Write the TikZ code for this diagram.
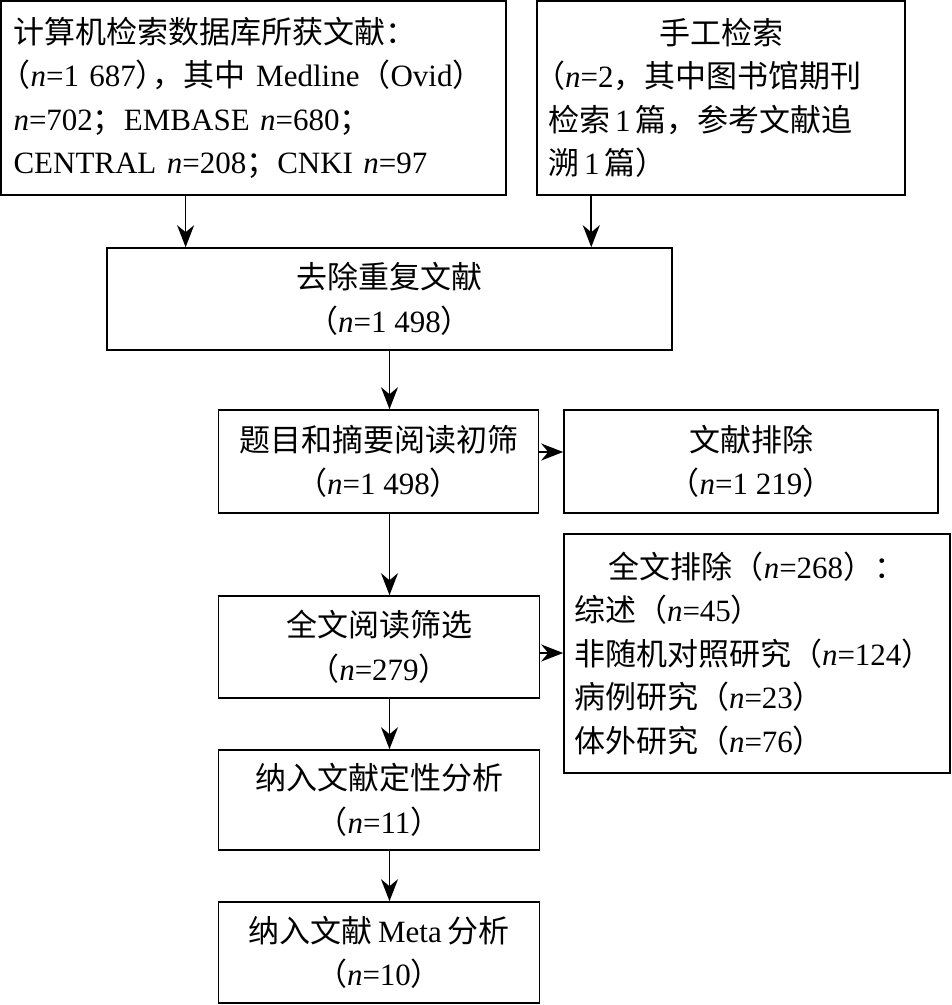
\documentclass[tikz,border=0pt]{standalone}
\usepackage{fontspec}
\setmainfont{Liberation Serif}
\newfontfamily\cjk{Noto Sans CJK SC}
\usetikzlibrary{arrows.meta,calc}
\newcommand\zh[1]{{\cjk #1}}
\newcommand\nI{\textit{n}}
\newcommand\lpar{{\cjk\makebox[.55em][r]{（}}}
\newcommand\rpar{{\cjk\makebox[.55em][l]{）}}}
\tikzset{
  box/.style={draw, line width=1.6pt, inner sep=0pt, font=\fontsize{31}{43.5}\selectfont},
  arr/.style={line width=1.6pt, -{Stealth[length=22pt,width=17pt,inset=7pt]}},
}
\begin{document}
\begin{tikzpicture}[x=1pt,y=-1pt]
\useasboundingbox (0,0) rectangle (952,1005);
\node[box, minimum width=505pt, minimum height=194pt, text width=480pt, align=left] (A) at (253.5,98) {%
\zh{计算机检索数据库所获文献：}\\
\lpar\nI=1~687\rpar\zh{，其中}~Medline\zh{（}Ovid\zh{）}\\
\nI=702\zh{；}EMBASE~\nI=680\zh{；}\\
CENTRAL~\nI=208\zh{；}CNKI~\nI=97};
\node[box, minimum width=368pt, minimum height=194pt, text width=346pt, align=left] (B) at (721,98) {%
\makebox[\hsize]{\zh{手工检索}}\\
\lpar\nI=2\zh{，其中图书馆期刊}\\
\zh{检索}\,1\,\zh{篇，参考文献追}\\
\zh{溯}\,1\,\zh{篇）}};
\node[box, minimum width=565pt, minimum height=102pt, align=center] (C) at (389.5,299) {\zh{去除重复文献}\\\zh{（}\nI=1~498\zh{）}};
\node[box, minimum width=320pt, minimum height=103pt, align=center] (D) at (378.5,461.5) {\zh{题目和摘要阅读初筛}\\\zh{（}\nI=1~498\zh{）}};
\node[box, minimum width=374pt, minimum height=103pt, align=center] (E) at (751,461.5) {\zh{文献排除}\\\zh{（}\nI=1~219\zh{）}};
\node[box, minimum width=321pt, minimum height=102pt, align=center] (F) at (379,647) {\zh{全文阅读筛选}\\\zh{（}\nI=279\zh{）}};
\node[box, minimum width=386pt, minimum height=239pt, text width=366pt, align=left] (G) at (757,653.5) {%
\makebox[\hsize]{\zh{全文排除（}\nI=268\zh{）：}}\\
\zh{综述（}\nI=45\zh{）}\\
\zh{非随机对照研究（}\nI=124\zh{）}\\
\zh{病例研究（}\nI=23\zh{）}\\
\zh{体外研究（}\nI=76\zh{）}};
\node[box, minimum width=321pt, minimum height=100pt, align=center] (H) at (379,800) {\zh{纳入文献定性分析}\\\zh{（}\nI=11\zh{）}};
\node[box, minimum width=321pt, minimum height=101pt, align=center] (I) at (379,952.5) {\zh{纳入文献}\,Meta\,\zh{分析}\\\zh{（}\nI=10\zh{）}};
\path ($(A.south west)!0.366!(A.south east)$) coordinate (a1);
\path ($(B.south west)!0.149!(B.south east)$) coordinate (b1);
\draw[arr] (a1) -- (a1 |- C.north);
\draw[arr] (b1) -- (b1 |- C.north);
\draw[arr] (C.south) -- (C.south |- D.north);
\draw[arr] ([yshift=9.5pt]D.east) -- ([yshift=9.5pt]D.east -| E.west);
\draw[arr] (D.south -| C.south) -- (F.north -| C.south);
\draw[arr] ([yshift=-6pt]F.east) -- ([yshift=-6pt]F.east -| G.west);
\draw[arr] (F.south -| C.south) -- (H.north -| C.south);
\draw[arr] (H.south -| C.south) -- (I.north -| C.south);
\end{tikzpicture}
\end{document}
